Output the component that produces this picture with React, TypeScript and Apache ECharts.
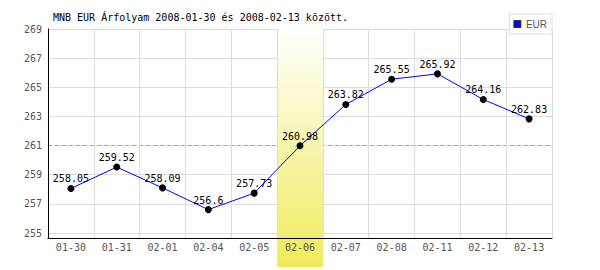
import React, { useEffect, useRef } from "react";
import * as echarts from "echarts";

const titleText = "MNB EUR Árfolyam 2008-01-30 és 2008-02-13 között.";
const seriesName = "EUR";
const categories = ["01-30", "01-31", "02-01", "02-04", "02-05", "02-06", "02-07", "02-08", "02-11", "02-12", "02-13"];
const rates = [258.05, 259.52, 258.09, 256.6, 257.73, 260.98, 263.82, 265.55, 265.92, 264.16, 262.83];
const yTickMin = 255;
const yTickMax = 269;
const yTickInterval = 2;
const plotMin = 254.65;
const refLineValue = 261;
const highlightCategory = "02-06";

const mono = "'DejaVu Sans Mono', 'Liberation Mono', monospace";

export default function App() {
  const ref = useRef<HTMLDivElement>(null);
  useEffect(() => {
    if (!ref.current) return;
    const chart = echarts.init(ref.current, undefined, { renderer: "svg" });
    const option: any = {
      animation: false,
      backgroundColor: "#ffffff",
      title: {
        text: titleText,
        left: 53,
        top: 12,
        padding: 0,
        textStyle: { fontFamily: mono, fontSize: 10, fontWeight: "normal", color: "#000" },
      },
      legend: {
        data: [
          {
            name: seriesName,
            icon: "rect",
            itemStyle: { color: "#0000ff", borderColor: "#333", borderWidth: 1 },
          },
        ],
        right: 48,
        top: 14,
        itemWidth: 7,
        itemHeight: 7,
        padding: [4, 5, 4, 4],
        borderColor: "#dddddd",
        borderWidth: 1,
        backgroundColor: "#ffffff",
        selectedMode: false,
        z: 9,
        textStyle: {
          fontFamily: "'Liberation Sans Narrow', 'Liberation Sans', sans-serif",
          fontSize: 10,
          color: "#555",
          lineHeight: 12,
        },
      },
      grid: [
        { left: 48, right: 48, top: 29, bottom: 32 },
        { left: 48, right: 48, top: 29, bottom: 37 },
      ],
      xAxis: [
        {
          type: "category",
          gridIndex: 0,
          data: categories,
          boundaryGap: true,
          z: 7,
          axisLine: { lineStyle: { color: "#000", width: 1 } },
          axisTick: { show: false },
          axisLabel: { color: "#555", fontFamily: mono, fontSize: 10, margin: 4 },
          splitLine: { show: true, lineStyle: { color: "#dcdcdc", width: 1 } },
        },
        { type: "category", gridIndex: 1, data: categories, show: false },
      ],
      yAxis: [
        {
          type: "value",
          gridIndex: 0,
          min: plotMin,
          max: yTickMax,
          z: 7,
          axisLine: { show: true, lineStyle: { color: "#000", width: 1 } },
          axisTick: { show: false },
          axisLabel: { show: false },
          splitLine: { show: false },
        },
        {
          type: "value",
          gridIndex: 1,
          min: yTickMin,
          max: yTickMax,
          interval: yTickInterval,
          z: 0,
          axisLine: { show: false },
          axisTick: { show: false },
          axisLabel: { color: "#555", fontFamily: mono, fontSize: 10, margin: 6 },
          splitLine: { show: true, lineStyle: { color: "#dcdcdc", width: 1 } },
        },
      ],
      series: [
        {
          name: seriesName,
          type: "line",
          xAxisIndex: 0,
          yAxisIndex: 0,
          data: rates,
          z: 8,
          symbol: "circle",
          symbolSize: 7,
          lineStyle: { color: "#0000ff", width: 1 },
          itemStyle: { color: "#000" },
          label: {
            show: true,
            position: "top",
            distance: 1,
            color: "#000",
            fontFamily: mono,
            fontSize: 10,
          },
          markLine: {
            silent: true,
            symbol: "none",
            z: 5,
            label: { show: false },
            lineStyle: { color: "#9999ff", type: [4, 3], width: 1 },
            data: [{ yAxis: refLineValue }],
          },
        },
      ],
    };
    chart.setOption(option);

    const idx = categories.indexOf(highlightCategory);
    const c0 = chart.convertToPixel({ xAxisIndex: 0 }, idx) as number;
    const c1 = chart.convertToPixel({ xAxisIndex: 0 }, idx + 1) as number;
    const w = c1 - c0;
    const top = chart.convertToPixel({ yAxisIndex: 0 }, yTickMax) as number;
    const bottom = chart.getHeight() - 3;
    chart.setOption({
      graphic: [
        {
          type: "rect",
          z: 6,
          silent: true,
          shape: { x: c0 - w / 2, y: top, width: w, height: bottom - top },
          style: {
            fill: new echarts.graphic.LinearGradient(0, 0, 0, 1, [
              { offset: 0, color: "#ffffff" },
              { offset: 1, color: "#eeec5a" },
            ]),
          },
        },
      ],
    });

    return () => chart.dispose();
  }, []);
  return (
    <div
      ref={ref}
      style={{ position: "fixed", left: 0, top: 0, width: 600, height: 270 }}
    />
  );
}
